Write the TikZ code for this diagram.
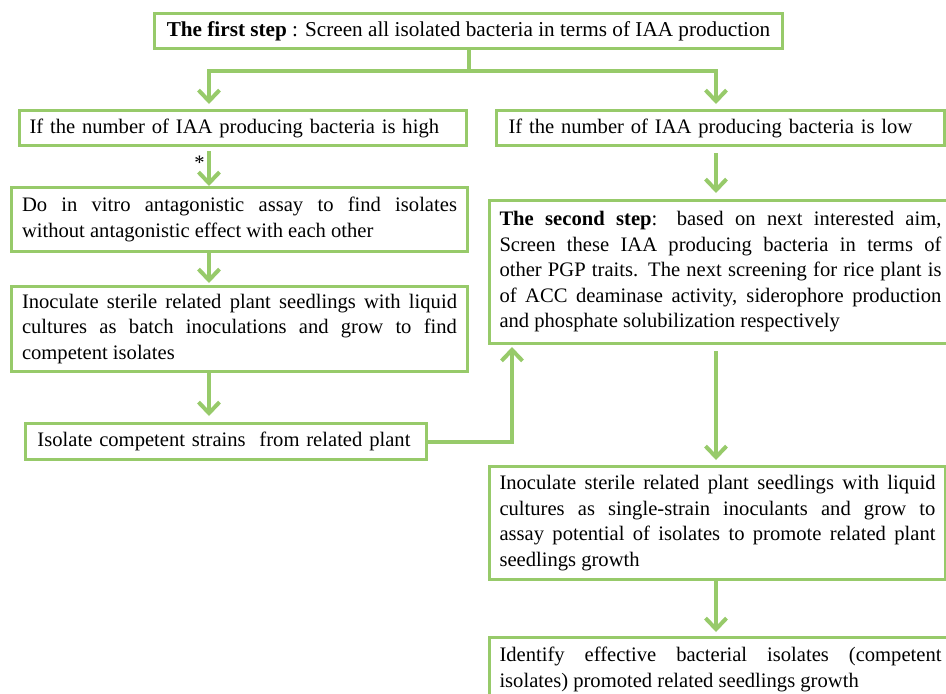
\documentclass[tikz,border=0pt]{standalone}
\usepackage{fontspec}
\setmainfont{Liberation Serif}
\usepackage{xcolor}
\usetikzlibrary{arrows.meta, positioning}
\definecolor{leafgreen}{RGB}{151,202,106}

\begin{document}
\begin{tikzpicture}[
    x=1pt, y=-1pt,
    block/.style={rectangle, draw=leafgreen, line width=3pt, anchor=north west, inner xsep=10pt, inner ysep=0pt, font=\fontsize{20.6}{25.5}\selectfont},
    title/.style={block, font=\fontsize{21.2}{25.5}\selectfont},
    line/.style={block, align=left},
    para/.style={block, align=justify},
    arrow/.style={-{Straight Barb[length=11pt, width=21pt]}, draw=leafgreen, line width=4pt}
]
\clip (0,0) rectangle (946,694);

% Row 1: first step
\node[title, minimum width=628pt, minimum height=35pt] (first) at (153,12)
    {\textbf{The first step} : Screen all isolated bacteria in terms of IAA production};

% Row 2: high / low
\node[line, minimum width=447pt, minimum height=35pt, text width=427pt] (high) at (18,109)
    {If the number of IAA producing bacteria is high};
\node[line, minimum width=448pt, minimum height=35pt, text width=424pt, inner xsep=12pt] (low) at (495,109)
    {If the number of IAA producing bacteria is low};

% Left column
\node[para, minimum width=456pt, minimum height=64pt, text width=435pt] (vitro) at (10,186)
    {Do in vitro antagonistic assay to find isolates\linebreak without antagonistic effect with each other};
\node[para, minimum width=456pt, minimum height=85pt, text width=435pt] (batch) at (10,285)
    {Inoculate sterile related plant seedlings with liquid\linebreak cultures as batch inoculations and grow to find\linebreak competent isolates};
\node[line, minimum width=401pt, minimum height=36pt, text width=377pt, inner xsep=12pt] (isolate) at (24,422)
    {Isolate competent strains\ \ from related plant};

% Right column
\node[para, minimum width=462pt, minimum height=143pt, text width=442pt] (second) at (488,199)
    {\textbf{The second step}: based on next interested aim,\linebreak Screen these IAA producing bacteria in terms of\linebreak other PGP traits. The next screening for rice plant is\linebreak of ACC deaminase activity, siderophore production\linebreak and phosphate solubilization respectively};
\node[para, minimum width=455pt, minimum height=113pt, text width=436pt] (single) at (488,465)
    {Inoculate sterile related plant seedlings with liquid\linebreak cultures as single-strain inoculants and grow to\linebreak assay potential of isolates to promote related plant\linebreak seedlings growth};
\node[para, minimum width=462pt, minimum height=64pt, text width=442pt] (identify) at (488,636)
    {Identify effective bacterial isolates (competent\linebreak isolates) promoted related seedlings growth};

% Column axes
\coordinate (lx) at (209,0);
\coordinate (rx) at (716,0);

% Arrows
\draw[line width=4pt, draw=leafgreen] (first.south) -- ++(0,21) coordinate (split);
\draw[arrow] (split) -| ([yshift=5pt]high.north -| lx);
\draw[arrow] (split) -| ([yshift=5pt]low.north -| rx);
\draw[arrow] ([yshift=-4pt]high.south -| lx) -- (vitro.north -| lx)
    node[pos=0.35, left=-1pt, font=\fontsize{20.6}{25.5}\selectfont] (star) {*};
\draw[arrow] (vitro.south -| lx) -- ([yshift=2pt]batch.north -| lx);
\draw[arrow] (batch.south -| lx) -- ([yshift=6pt]isolate.north -| lx);
\draw[arrow] (isolate.east) -| ([xshift=24pt, yshift=-2pt]second.south west);
\draw[arrow] ([yshift=-6pt]low.south -| rx) -- ([yshift=6pt]second.north -| rx);
\draw[arrow] ([yshift=-6pt]second.south -| rx) -- ([yshift=5pt]single.north -| rx);
\draw[arrow] (single.south -| rx) -- ([yshift=4pt]identify.north -| rx);

\end{tikzpicture}
\end{document}
